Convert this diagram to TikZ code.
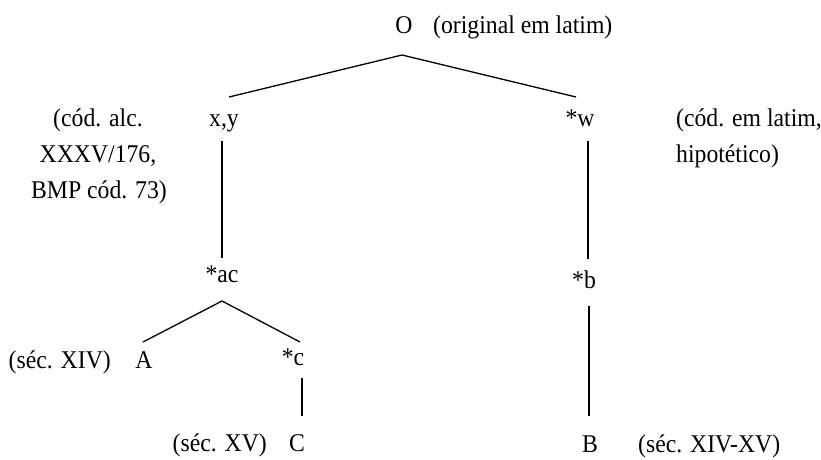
\documentclass[tikz,border=0pt]{standalone}
\usepackage{fontspec}
\setmainfont{Liberation Serif}[FakeStretch=0.93]
\begin{document}
\begin{tikzpicture}[x=1pt,y=-1pt,
  lbl/.style={inner sep=0pt,anchor=base,font=\fontsize{25.5}{30}\selectfont},
  lblw/.style={lbl,anchor=base west},
  lble/.style={lbl,anchor=base east},
  edge/.style={line width=1.3pt}]
\useasboundingbox (0,0) rectangle (821,459);
% nodes
\node[lbl] (O) at (404,33) {O};
\node[lblw] (Onote) at (433,33) {(original em latim)};
\node[lbl] (xy) at (224,126) {x,y};
\node[lbl] (w) at (580,126) {*w};
\node[lbl] (xyn1) at (98,126) {(cód. alc.};
\node[lbl] (xyn2) at (98,162) {XXXV/176,};
\node[lbl] (xyn3) at (99,198) {BMP cód. 73)};
\node[lblw] (wn1) at (676,126) {(cód. em latim,};
\node[lblw] (wn2) at (676,162) {hipotético)};
\node[lbl] (ac) at (222,282) {*ac};
\node[lbl] (b) at (584,288) {*b};
\node[lbl] (A) at (144,368) {A};
\node[lble] (An) at (111,368) {(séc. XIV)};
\node[lbl] (c) at (293,365) {*c};
\node[lbl] (C) at (297,451) {C};
\node[lble] (Cn) at (267,451) {(séc. XV)};
\node[lbl] (B) at (590,452) {B};
\node[lblw] (Bn) at (638,452) {(séc. XIV-XV)};
% connector ends
\coordinate (O-b) at (402,55);
\coordinate (xy-t) at (229,97);
\coordinate (w-t) at (576,97);
\coordinate (xy-b) at (222,141);
\coordinate (ac-t) at (222,258);
\coordinate (w-b) at (588,141);
\coordinate (b-t) at (588,259);
\coordinate (ac-b) at (222,301);
\coordinate (A-t) at (143,342);
\coordinate (c-t) at (300,342);
\coordinate (c-b) at (302,378);
\coordinate (C-t) at (302,416);
\coordinate (b-b) at (589,306);
\coordinate (B-t) at (589,416);
% connectors
\draw[edge] (xy-t) -- (O-b) -- (w-t);
\draw[edge] (xy-b) -- (ac-t);
\draw[edge] (w-b) -- (b-t);
\draw[edge] (A-t) -- (ac-b) -- (c-t);
\draw[edge] (c-b) -- (C-t);
\draw[edge] (b-b) -- (B-t);
\end{tikzpicture}
\end{document}
